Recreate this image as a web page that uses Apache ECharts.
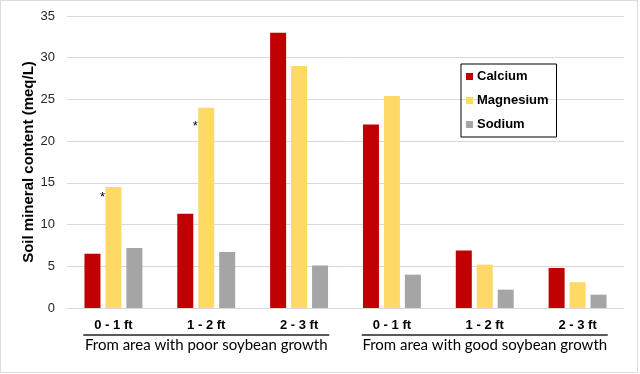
<!DOCTYPE html>
<html>
<head>
<meta charset="utf-8">
<script src="https://cdn.jsdelivr.net/npm/echarts@6/dist/echarts.min.js"></script>
<style>
html,body{margin:0;padding:0;background:#fff;}
#frame{position:absolute;left:0;top:0;width:636px;height:371px;border:1px solid #dcdcdc;box-sizing:content-box;}
#chart{position:absolute;left:0;top:0;width:640px;height:374px;}
</style>
</head>
<body>
<div id="frame"></div>
<div id="chart"></div>
<script>
const categories = ['0 - 1 ft', '1 - 2 ft', '2 - 3 ft', '0 - 1 ft', '1 - 2 ft', '2 - 3 ft'];
const groups = ['From area with poor soybean growth', 'From area with good soybean growth'];
const calcium = [6.5, 11.3, 33, 22, 6.9, 4.8];
const magnesium = [14.5, 24, 29, 25.4, 5.2, 3.1];
const sodium = [7.2, 6.7, 5.1, 4.0, 2.2, 1.6];
const significant = [true, true, false, false, false, false];
const yTicks = [0, 5, 10, 15, 20, 25, 30, 35];

const chart = echarts.init(document.getElementById('chart'), null, {renderer: 'canvas'});

const starOffsets = [[-3, 10], [-3, 19]];
const magData = magnesium.map((v, i) => {
  if (!significant[i]) return v;
  return {
    value: v,
    label: {
      show: true,
      formatter: '*',
      position: starOffsets[i],
      align: 'center',
      verticalAlign: 'middle',
      fontSize: 13,
      fontFamily: 'Liberation Sans',
      color: '#000'
    }
  };
});

chart.setOption({
  animation: false,
  backgroundColor: 'transparent',
  grid: {left: 67, right: 16, top: 16, bottom: 66},
  legend: {
    orient: 'vertical',
    left: 461,
    top: 64,
    width: 95,
    padding: [6, 8, 6, 5],
    itemWidth: 7,
    itemHeight: 7,
    itemGap: 11,
    borderColor: '#000',
    borderWidth: 1,
    icon: 'rect',
    textStyle: {fontFamily: 'Liberation Sans', fontWeight: 'bold', fontSize: 13, color: '#000', padding: [0, 0, 0, -1]},
    data: ['Calcium', 'Magnesium', 'Sodium']
  },
  xAxis: [
    {
      type: 'category',
      data: categories,
      axisLine: {lineStyle: {color: '#d9d9d9', width: 1}},
      axisTick: {show: false},
      axisLabel: {fontFamily: 'Liberation Sans', fontWeight: 'bold', fontSize: 13, color: '#000', margin: 11, interval: 0}
    },
    {
      type: 'category',
      position: 'bottom',
      data: groups,
      axisLine: {show: false},
      axisTick: {show: false},
      splitLine: {show: false},
      axisLabel: {
        interval: 0,
        margin: 26,
        formatter: v => '{ln|}\n{t|' + v + '}',
        rich: {
          ln: {width: 246, height: 2, backgroundColor: '#595959'},
          t: {fontFamily: 'Lato', fontSize: 15, color: '#000', lineHeight: 16, padding: [2, 0, 0, 0]}
        }
      }
    }
  ],
  yAxis: {
    type: 'value',
    min: 0,
    max: 35,
    interval: 5,
    name: 'Soil mineral content (meq/L)',
    nameLocation: 'middle',
    nameGap: 31,
    nameMoveOverlap: false,
    nameTextStyle: {fontFamily: 'Liberation Sans', fontWeight: 'bold', fontSize: 15, color: '#000'},
    axisLine: {show: false},
    axisTick: {show: false},
    axisLabel: {fontFamily: 'Liberation Sans', fontSize: 13, color: '#262626', margin: 12,
      formatter: v => yTicks.includes(v) ? String(v) : ''},
    splitLine: {lineStyle: {color: '#d9d9d9', width: 1}}
  },
  series: [
    {name: 'Calcium', type: 'bar', data: calcium, barWidth: 16, barGap: '31%', itemStyle: {color: '#C00000'}},
    {name: 'Magnesium', type: 'bar', data: magData, barWidth: 16, barGap: '31%', itemStyle: {color: '#FFD966'}},
    {name: 'Sodium', type: 'bar', data: sodium, barWidth: 16, barGap: '31%', itemStyle: {color: '#A5A5A5'}}
  ]
});
</script>
</body>
</html>
